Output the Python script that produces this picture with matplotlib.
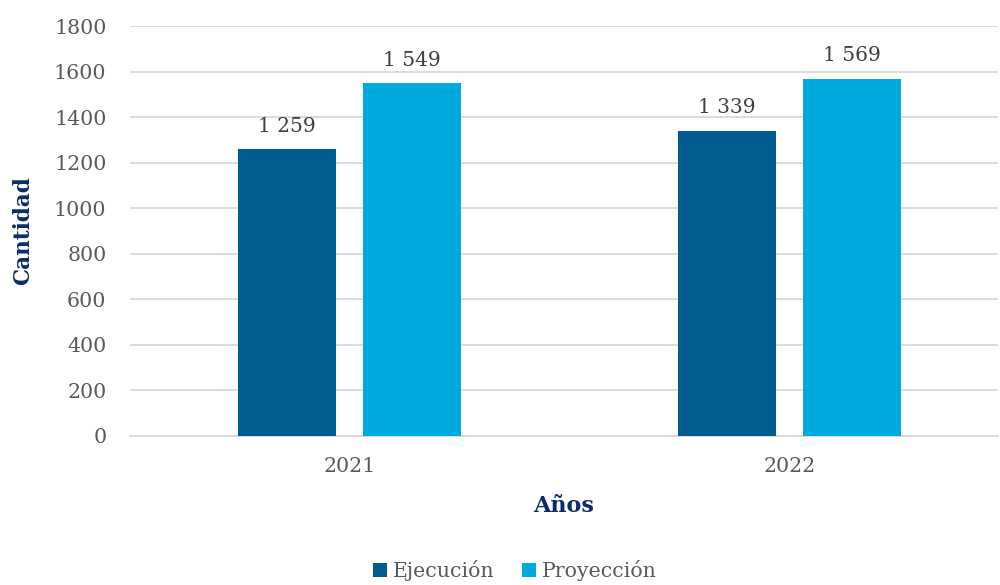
import matplotlib
matplotlib.use("Agg")
import matplotlib.pyplot as plt
import numpy as np

years = ["2021", "2022"]
ejecucion = [1259, 1339]
proyeccion = [1549, 1569]
series_names = ["Ejecución", "Proyección"]
label_text_ej = ["1 259", "1 339"]
label_text_pr = ["1 549", "1 569"]
yticks = [0, 200, 400, 600, 800, 1000, 1200, 1400, 1600, 1800]

c_ej = "#005C8F"
c_pr = "#00A9E0"
gray = "#595959"
navy = "#0D2B6B"

plt.rcParams['font.family'] = ['DejaVu Serif']

fig = plt.figure(figsize=(10, 5.85), dpi=100)
ax = fig.add_axes([0.13, 0.255, 0.868, 0.70])

x = np.arange(len(years))
w = 0.223
off = 0.142
b1 = ax.bar(x - off, ejecucion, w, color=c_ej, label=series_names[0], zorder=3)
b2 = ax.bar(x + off, proyeccion, w, color=c_pr, label=series_names[1], zorder=3)

for rect, t in zip(b1, label_text_ej):
    ax.annotate(t, (rect.get_x() + rect.get_width() / 2, rect.get_height()),
                xytext=(0, 10), textcoords="offset points", ha="center", va="bottom",
                fontsize=14.5, color="#404040")
for rect, t in zip(b2, label_text_pr):
    ax.annotate(t, (rect.get_x() + rect.get_width() / 2, rect.get_height()),
                xytext=(0, 10), textcoords="offset points", ha="center", va="bottom",
                fontsize=14.5, color="#404040")

ax.set_ylim(0, 1800)
ax.set_xlim(-0.499, 1.474)
ax.set_yticks(yticks)
ax.set_xticks(x)
ax.set_xticklabels(years)
ax.yaxis.grid(True, color="#D9D9D9", linewidth=1.3, zorder=0)
ax.set_axisbelow(True)
for s in ["top", "right", "left"]:
    ax.spines[s].set_visible(False)
ax.spines["bottom"].set_color("#D9D9D9")
ax.spines["bottom"].set_linewidth(1.3)
ax.tick_params(axis="both", length=0, labelsize=14.8, labelcolor=gray)
ax.tick_params(axis="y", pad=17)
ax.tick_params(axis="x", pad=15)

ax.set_ylabel("Cantidad", fontsize=15.5, fontweight="bold", color=navy, labelpad=14)
ax.set_xlabel("Años", fontsize=16, fontweight="bold", color=navy, labelpad=14)

leg = fig.legend(loc="lower center", bbox_to_anchor=(0.515, -0.025), ncol=2, frameon=False,
                 fontsize=14.8, handlelength=0.7, handleheight=0.7, handletextpad=0.3,
                 columnspacing=1.3)
for t in leg.get_texts():
    t.set_color(gray)

fig.savefig("out.png", dpi=100)
